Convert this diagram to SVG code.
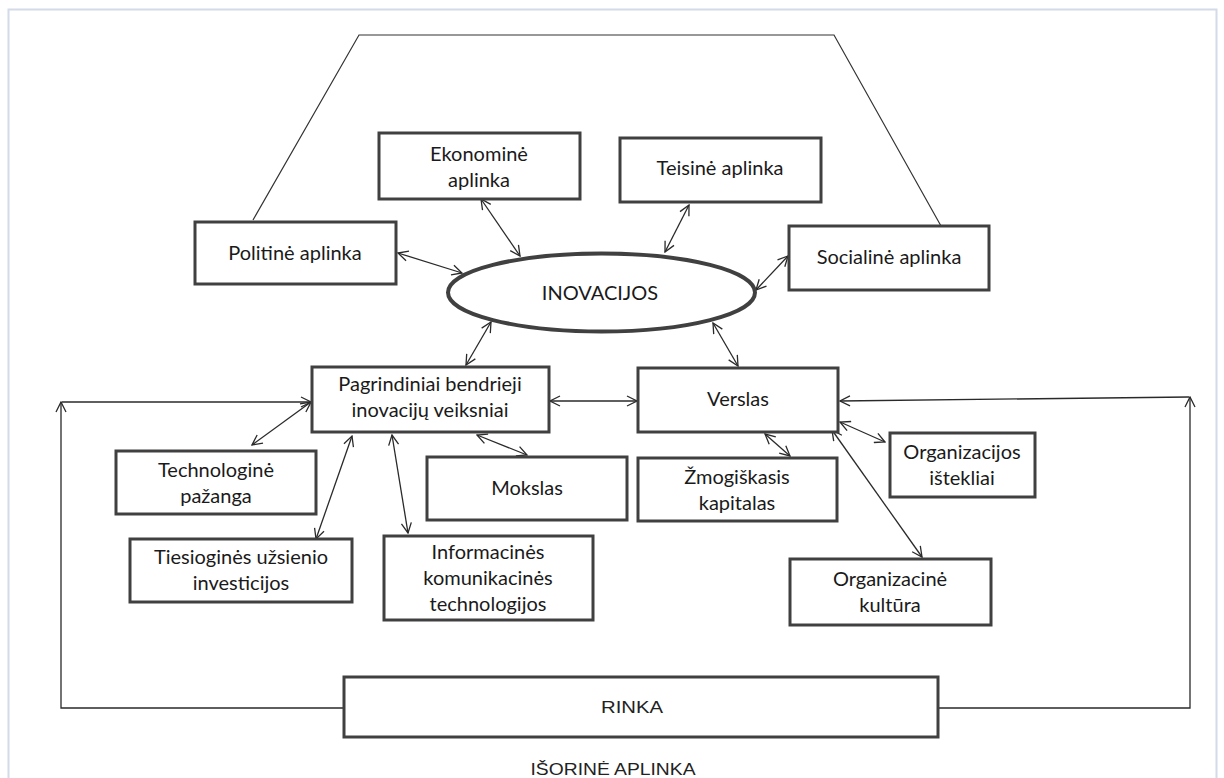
<svg xmlns="http://www.w3.org/2000/svg" width="1224" height="778" viewBox="0 0 1224 778">
<style>
.box{fill:#fff;stroke:#404040;stroke-width:3}
.t{font-family:Lato,"Open Sans",sans-serif;font-size:20px;fill:#1a1a1a;text-anchor:middle}
.a{font-family:"Liberation Sans",Arial,sans-serif;font-size:17px;fill:#222;text-anchor:middle}
.c{fill:none;stroke:#2a2a2a;stroke-width:1.3}
.l{fill:none;stroke:#333;stroke-width:1.2}
</style>
<defs>
<marker id="ah" viewBox="0 0 12 12" refX="11" refY="6" markerWidth="12" markerHeight="12" markerUnits="userSpaceOnUse" orient="auto-start-reverse">
<path d="M1,1 L11,6 L1,11" fill="none" stroke="#2a2a2a" stroke-width="1.3"/>
</marker>
</defs>
<rect x="0" y="0" width="1224" height="778" fill="#fff"/>
<path d="M8.5,778 V9.5 H1216.5 V778" fill="none" stroke="#d3dae8" stroke-width="2"/>

<g id="connectors">
<polyline class="l" points="253,220 359,35 834,35 941,226"/>
<path class="c" d="M398,253 L462,273" marker-start="url(#ah)" marker-end="url(#ah)"/>
<path class="c" d="M481,199 L520,256" marker-start="url(#ah)" marker-end="url(#ah)"/>
<path class="c" d="M689,205 L665,252" marker-start="url(#ah)" marker-end="url(#ah)"/>
<path class="c" d="M788,256 L756,290" marker-start="url(#ah)" marker-end="url(#ah)"/>
<path class="c" d="M491,322 L466,365" marker-start="url(#ah)" marker-end="url(#ah)"/>
<path class="c" d="M713,323 L738,366" marker-start="url(#ah)" marker-end="url(#ah)"/>
<path class="c" d="M550,401 L637,401" marker-start="url(#ah)" marker-end="url(#ah)"/>
<path class="c" d="M311,402 L252,445" marker-start="url(#ah)" marker-end="url(#ah)"/>
<path class="c" d="M352,436 L316,539" marker-start="url(#ah)" marker-end="url(#ah)"/>
<path class="c" d="M392,435 L408,533" marker-start="url(#ah)" marker-end="url(#ah)"/>
<path class="c" d="M477,435 L527,455" marker-start="url(#ah)" marker-end="url(#ah)"/>
<path class="c" d="M765,434 L790,456" marker-start="url(#ah)" marker-end="url(#ah)"/>
<path class="c" d="M840,422 L885,442" marker-start="url(#ah)" marker-end="url(#ah)"/>
<path class="c" d="M832,430 L922,557" marker-start="url(#ah)" marker-end="url(#ah)"/>
<path class="c" d="M344,708 H61 V402" marker-end="url(#ah)"/>
<path class="c" d="M62,402 H311" marker-end="url(#ah)"/>
<path class="c" d="M938,708 H1190 V397" marker-end="url(#ah)"/>
<path class="c" d="M1189,397 L840,401" marker-end="url(#ah)"/>
</g>

<g id="politine"><rect class="box" x="195" y="222" width="201" height="62"/><text class="t" x="295" y="260">Politinė aplinka</text></g>
<g id="ekonomine"><rect class="box" x="379" y="133" width="201" height="66"/><text class="t" x="479" y="161">Ekonominė</text><text class="t" x="479" y="187">aplinka</text></g>
<g id="teisine"><rect class="box" x="620" y="138" width="201" height="64"/><text class="t" x="720" y="175">Teisinė aplinka</text></g>
<g id="sociali"><rect class="box" x="789" y="226" width="200" height="64"/><text class="t" x="889" y="264">Socialinė aplinka</text></g>
<g id="inovacijos"><ellipse cx="601.5" cy="292.5" rx="153.5" ry="39" fill="#fff" stroke="#404040" stroke-width="4"/><text class="t" x="600" y="300">INOVACIJOS</text></g>
<g id="pagrindiniai"><rect class="box" x="312" y="367" width="237" height="65"/><text class="t" x="430" y="391">Pagrindiniai bendrieji</text><text class="t" x="430" y="417">inovacijų veiksniai</text></g>
<g id="verslas"><rect class="box" x="638" y="368" width="200" height="64"/><text class="t" x="738" y="406">Verslas</text></g>
<g id="technologine"><rect class="box" x="116" y="451" width="200" height="63"/><text class="t" x="216" y="477">Technologinė</text><text class="t" x="216" y="503">pažanga</text></g>
<g id="mokslas"><rect class="box" x="427" y="457" width="200" height="63"/><text class="t" x="527" y="495">Mokslas</text></g>
<g id="zmogiskasis"><rect class="box" x="638" y="458" width="199" height="63"/><text class="t" x="737" y="484">Žmogiškasis</text><text class="t" x="737" y="510">kapitalas</text></g>
<g id="isteklai"><rect class="box" x="890" y="433" width="145" height="64"/><text class="t" x="962" y="459">Organizacijos</text><text class="t" x="962" y="485">ištekliai</text></g>
<g id="tiesiogines"><rect class="box" x="130" y="539" width="222" height="63"/><text class="t" x="241" y="564">Tiesioginės užsienio</text><text class="t" x="241" y="590">investicijos</text></g>
<g id="informacines"><rect class="box" x="384" y="536" width="209" height="84"/><text class="t" x="488" y="559">Informacinės</text><text class="t" x="488" y="585">komunikacinės</text><text class="t" x="488" y="611">technologijos</text></g>
<g id="kultura"><rect class="box" x="790" y="559" width="201" height="66"/><text class="t" x="890" y="586">Organizacinė</text><text class="t" x="890" y="612">kultūra</text></g>
<g id="rinka"><rect class="box" x="344" y="677" width="594" height="60"/><text class="a" x="632" y="713" textLength="62" lengthAdjust="spacingAndGlyphs">RINKA</text></g>
<text class="a" x="613" y="775" font-size="19" textLength="165" lengthAdjust="spacingAndGlyphs">IŠORINĖ APLINKA</text>
</svg>
